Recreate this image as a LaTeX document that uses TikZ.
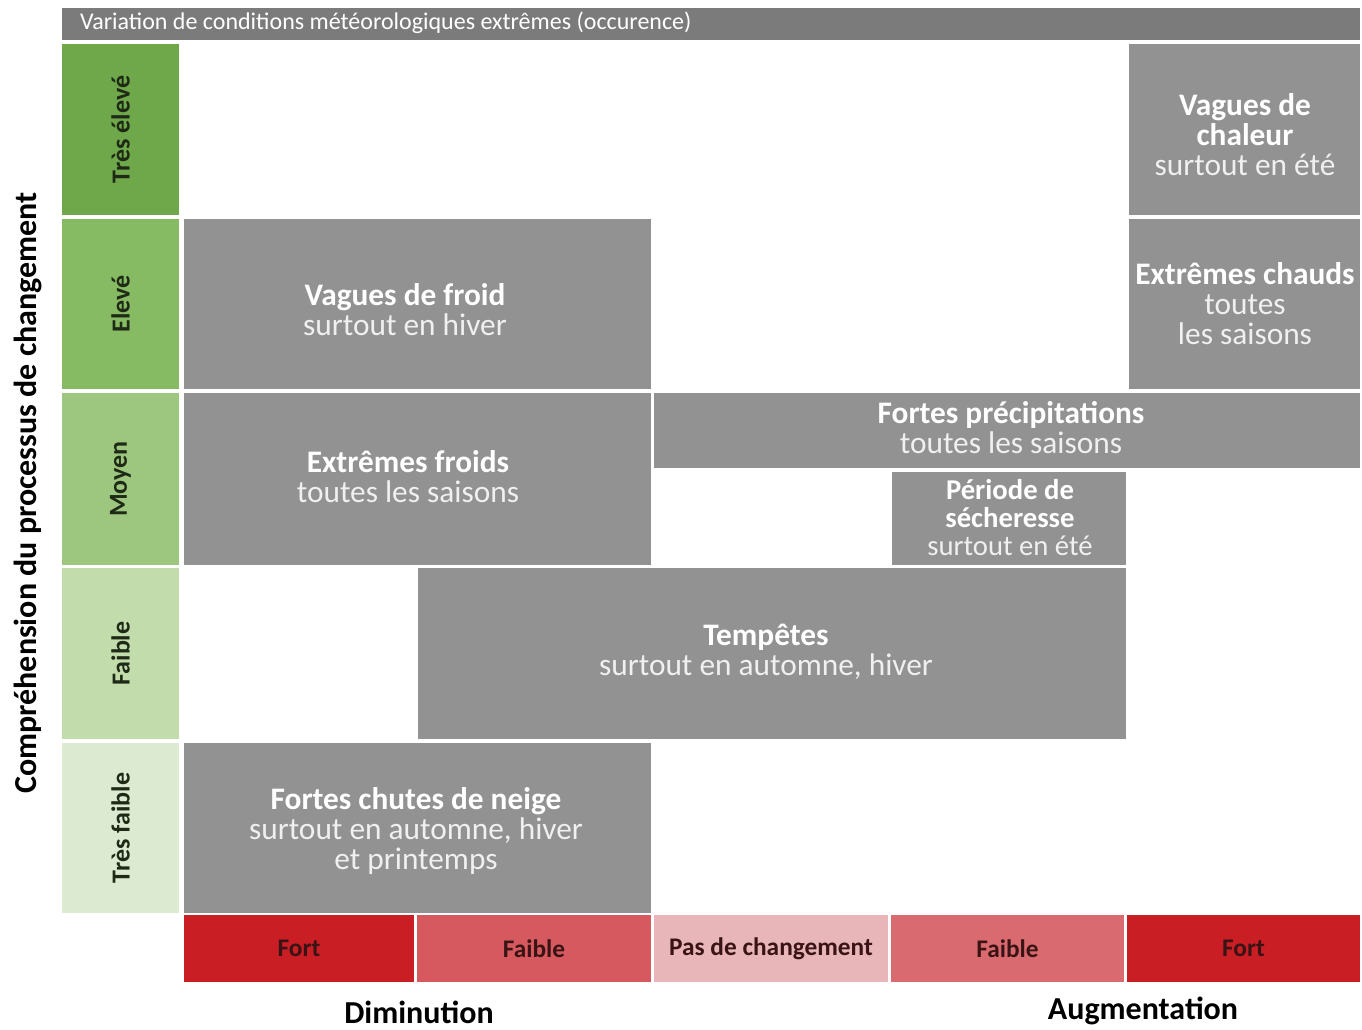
\documentclass[tikz,border=0pt]{standalone}
\usepackage{fontspec}
\setmainfont{Carlito}
\begin{document}
\begin{tikzpicture}[x=0.75pt,y=-0.75pt,
  every node/.style={inner sep=0pt, outer sep=0pt},
  graybox/.style={fill=boxgray},
  boxtext/.style={text=white, align=center, font=\fontsize{23.5}{22.5}\selectfont},
  greencell/.style={fill=#1},
  redcell/.style={fill=#1, text=redtext, font=\bfseries\fontsize{19}{22}\selectfont},
  greenlabel/.style={rotate=90, text=greentext, font=\bfseries\fontsize{19.5}{22}\selectfont}]
\definecolor{boxgray}{HTML}{929292}
\definecolor{headgray}{HTML}{7B7B7B}
\definecolor{subwhite}{HTML}{F0F0F0}
\definecolor{greentext}{HTML}{1E2A16}
\definecolor{redtext}{HTML}{3A1414}
\definecolor{gA}{HTML}{6EA84A}
\definecolor{gB}{HTML}{86BA63}
\definecolor{gC}{HTML}{9DC77F}
\definecolor{gD}{HTML}{C2DCAC}
\definecolor{gE}{HTML}{DDEAD2}
\definecolor{rStrong}{HTML}{C81E24}
\definecolor{rWeakL}{HTML}{D6595F}
\definecolor{rNone}{HTML}{E8B5B9}
\definecolor{rWeakR}{HTML}{D96B70}
\newcommand{\cell}[7]{%
  \node[#1, minimum width={(#5-#3)*0.75pt}, minimum height={(#6-#4)*0.75pt}] (#2) at ({(#3+#5)/2},{(#4+#6)/2}) {#7};}
\newcommand{\sbt}[1]{{\color{subwhite}#1}}
\useasboundingbox[fill=white] (0,0) rectangle (1362,1030);
% header
\cell{fill=headgray}{head}{62}{8}{1360}{40}{}
\node[anchor=west, text=white, font=\fontsize{18}{20}\selectfont] (headtxt) at (80,23) {Variation de conditions météorologiques extrêmes (occurence)};
% green column
\cell{greencell=gA}{g1}{62}{44}{179}{215}{}
\cell{greencell=gB}{g2}{62}{219}{179}{389}{}
\cell{greencell=gC}{g3}{62}{393}{179}{565}{}
\cell{greencell=gD}{g4}{62}{568}{179}{739}{}
\cell{greencell=gE}{g5}{62}{743}{179}{913}{}
\node[greenlabel] (l1) at (g1.center) {Très élevé};
\node[greenlabel] (l2) at (g2.center) {Elevé};
\node[greenlabel] (l3) at (g3.center) {Moyen};
\node[greenlabel] (l4) at (g4.center) {Faible};
\node[greenlabel] (l5) at (g5.center) {Très faible};
% gray boxes
\cell{graybox}{chaleur}{1129}{44}{1360}{215}{}
\cell{graybox}{chauds}{1129}{219}{1360}{389}{}
\cell{graybox}{froid}{184}{219}{651}{389}{}
\cell{graybox}{froids}{184}{393}{651}{565}{}
\cell{graybox}{precip}{654}{393}{1360}{468}{}
\cell{graybox}{secheresse}{892}{472}{1126}{565}{}
\cell{graybox}{tempetes}{418}{568}{1126}{739}{}
\cell{graybox}{neige}{184}{743}{651}{913}{}
\node[boxtext] (tchaleur) at (1245,135) {\textbf{Vagues de}\\\textbf{chaleur}\\\sbt{surtout en été}};
\node[boxtext] (tchauds) at (1245,304) {\textbf{Extrêmes chauds}\\\sbt{toutes}\\\sbt{les saisons}};
\node[boxtext] (tfroid) at (405,310) {\textbf{Vagues de froid}\\\sbt{surtout en hiver}};
\node[boxtext] (tfroids) at (408,477) {\textbf{Extrêmes froids}\\\sbt{toutes les saisons}};
\node[boxtext] (tprecip) at (1011,428) {\textbf{Fortes précipitations}\\\sbt{toutes les saisons}};
\node[boxtext, font=\fontsize{21.5}{21}\selectfont] (tsech) at (1010,518) {\textbf{Période de}\\\textbf{sécheresse}\\\sbt{surtout en été}};
\node[boxtext] (ttemp) at (766,652) {\textbf{Tempêtes}\\\sbt{surtout en automne, hiver}};
\node[boxtext] (tneige) at (416,831) {\textbf{Fortes chutes de neige}\\\sbt{surtout en automne, hiver}\\\sbt{et printemps}};
% red row
\cell{redcell=rStrong}{r1}{184}{915}{414}{982}{Fort}
\cell{redcell=rWeakL}{r2}{417}{915}{651}{982}{Faible}
\cell{redcell=rNone}{r3}{654}{915}{888}{982}{Pas de changement}
\cell{redcell=rWeakR}{r4}{891}{915}{1124}{982}{Faible}
\cell{redcell=rStrong}{r5}{1127}{915}{1360}{982}{Fort}
% axis labels
\node[font=\bfseries\fontsize{24}{28}\selectfont] (dim) at (419,1012) {Diminution};
\node[font=\bfseries\fontsize{24}{28}\selectfont] (aug) at (1143,1011) {Augmentation};
\node[rotate=90, font=\bfseries\fontsize{24}{28}\selectfont] (yax) at (28,493) {Compréhension du processus de changement};
\end{tikzpicture}
\end{document}
